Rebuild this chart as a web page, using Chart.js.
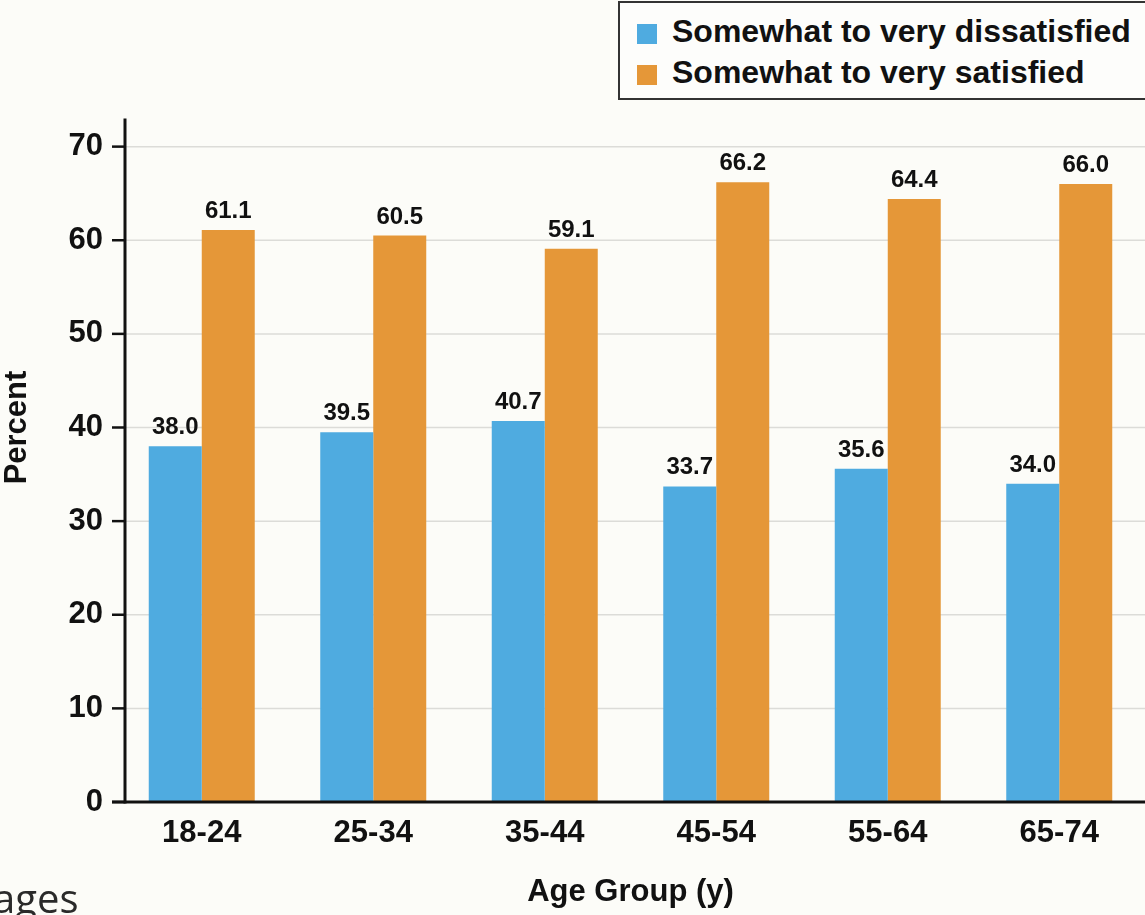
<!DOCTYPE html>
<html>
<head>
<meta charset="utf-8">
<title>Satisfaction by Age Group</title>
<script src="https://cdn.jsdelivr.net/npm/chart.js@4.4.1/dist/chart.umd.min.js"></script>
<style>
    html, body { margin: 0; padding: 0; background: #fcfcf8; overflow: hidden; }
    #wrap { position: relative; width: 1145px; height: 915px; }
    #legend {
        position: absolute; left: 618px; top: 1px; width: 560px; height: 95px;
        border: 2.5px solid #333; background: #fdfdfb; box-sizing: content-box;
        font-family: 'Liberation Sans', Arial, sans-serif; font-weight: bold; font-size: 32px; color: #111;
    }
    #legend .item { position: absolute; left: 17px; height: 40px; line-height: 40px; white-space: nowrap; }
    #legend .swatch { display: inline-block; width: 20px; height: 20px; vertical-align: -2px; margin-right: 15px; }
    #ages {
        position: absolute; left: -7px; top: 878px; font-family: 'Open Sans', sans-serif;
        font-size: 40px; line-height: 40px; color: #2a2a2a;
    }
</style>
</head>
<body>
<div id="wrap">
    <canvas id="ageChart"></canvas>
    <div id="legend">
        <div class="item" style="top: 8px;"><span class="swatch" style="background:#4fabe0"></span>Somewhat to very dissatisfied</div>
        <div class="item" style="top: 49px;"><span class="swatch" style="background:#e59738"></span>Somewhat to very satisfied</div>
    </div>
    <div id="ages">ages</div>
</div>
<script>
const categories = ['18-24', '25-34', '35-44', '45-54', '55-64', '65-74'];
const dissatisfied = [38.0, 39.5, 40.7, 33.7, 35.6, 34.0];
const satisfied = [61.1, 60.5, 59.1, 66.2, 64.4, 66.0];
const yTicks = [0, 10, 20, 30, 40, 50, 60, 70];

const BLUE = '#4fabe0';
const ORANGE = '#e59738';
const FONT = "'Liberation Sans', Arial, sans-serif";

document.addEventListener('DOMContentLoaded', () => {

    // --- AXES, GRID AND VALUE LABELS (drawn by hand to match the figure) ---
    const axisX = 125;
    const customAxes = {
        id: 'customAxes',
        beforeDatasetsDraw(chart) {
            const { ctx, chartArea, scales: { y } } = chart;
            ctx.save();
            ctx.strokeStyle = '#dcdcd8';
            ctx.lineWidth = 1.5;
            yTicks.forEach(v => {
                if (v === 0) return;
                const py = y.getPixelForValue(v);
                ctx.beginPath(); ctx.moveTo(axisX, py); ctx.lineTo(chartArea.right, py); ctx.stroke();
            });
            ctx.restore();
        },
        afterDatasetsDraw(chart) {
            const { ctx, chartArea, scales: { y } } = chart;
            ctx.save();
            ctx.strokeStyle = '#111';
            // y axis line
            ctx.lineWidth = 3;
            ctx.beginPath(); ctx.moveTo(axisX, y.getPixelForValue(73)); ctx.lineTo(axisX, y.getPixelForValue(0) + 1.5); ctx.stroke();
            // x axis line
            const y0 = y.getPixelForValue(0);
            ctx.beginPath(); ctx.moveTo(112, y0); ctx.lineTo(chartArea.right, y0); ctx.stroke();
            // tick marks
            ctx.lineWidth = 2.5;
            yTicks.forEach(v => {
                const py = y.getPixelForValue(v);
                ctx.beginPath(); ctx.moveTo(112, py); ctx.lineTo(axisX, py); ctx.stroke();
            });
            // value labels
            ctx.fillStyle = '#111';
            ctx.font = 'bold 24px ' + FONT;
            ctx.textAlign = 'center';
            ctx.textBaseline = 'alphabetic';
            [dissatisfied, satisfied].forEach((values, i) => {
                chart.getDatasetMeta(i).data.forEach((bar, j) => {
                    ctx.fillText(values[j].toFixed(1), bar.x, bar.y - 12);
                });
            });
            ctx.restore();
        }
    };

    new Chart(document.getElementById('ageChart'), {
        type: 'bar',
        data: {
            labels: categories,
            datasets: [
                { label: 'Somewhat to very dissatisfied', data: dissatisfied, backgroundColor: BLUE },
                { label: 'Somewhat to very satisfied', data: satisfied, backgroundColor: ORANGE }
            ]
        },
        options: {
            responsive: true,
            maintainAspectRatio: false,
            animation: false,
            categoryPercentage: 0.618,
            barPercentage: 1,
            layout: { padding: { top: 53, left: 0, right: 0, bottom: 0 } },
            scales: {
                x: {
                    grid: { display: false, drawTicks: false },
                    border: { display: false },
                    ticks: { color: '#111', padding: 13, font: { family: FONT, size: 31, weight: 'bold' } },
                    title: {
                        display: true, text: 'Age Group (y)', color: '#111',
                        font: { family: FONT, size: 31, weight: 'bold', lineHeight: 1 },
                        padding: { top: 0, bottom: 7.5 }
                    },
                    afterFit: scale => { scale.height = 113; }
                },
                y: {
                    min: 0, max: 80,
                    grid: { display: false, drawTicks: false },
                    border: { display: false },
                    ticks: { stepSize: 10, color: '#111', padding: 13, font: { family: FONT, size: 31, weight: 'bold' } },
                    afterBuildTicks: scale => { scale.ticks = scale.ticks.filter(t => yTicks.includes(t.value)); },
                    title: {
                        display: true, text: 'Percent', color: '#111',
                        font: { family: FONT, size: 31, weight: 'bold', lineHeight: 1 },
                        padding: { top: 1.5, bottom: 0 }
                    },
                    afterFit: scale => { scale.width = 116; }
                }
            },
            plugins: { legend: { display: false }, tooltip: { enabled: false } }
        },
        plugins: [customAxes]
    });
});
</script>
</body>
</html>
